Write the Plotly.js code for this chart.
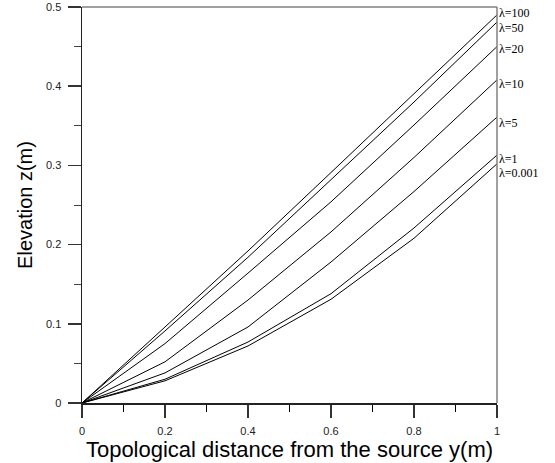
<!DOCTYPE html>
<html>
<head>
<meta charset="utf-8">
<script src="https://cdn.plot.ly/plotly-3.0.1.min.js"></script>
<style>html,body{margin:0;padding:0;background:#fff;}#chart{width:555px;height:463px;}</style>
</head>
<body>
<div id="chart"></div>
<script>
const xVals = [0, 0.2, 0.4, 0.6, 0.8, 1];
const lambda100 = [0, 0.096, 0.192, 0.291, 0.390, 0.490];
const lambda50 = [0, 0.091, 0.184, 0.282, 0.380, 0.481];
const lambda20 = [0, 0.075, 0.164, 0.254, 0.351, 0.450];
const lambda10 = [0, 0.052, 0.130, 0.216, 0.310, 0.408];
const lambda5 = [0, 0.038, 0.096, 0.178, 0.267, 0.361];
const lambda1 = [0, 0.030, 0.077, 0.138, 0.221, 0.313];
const lambda0001 = [0, 0.028, 0.072, 0.131, 0.208, 0.302];
const seriesNames = ["λ=100", "λ=50", "λ=20", "λ=10", "λ=5", "λ=1", "λ=0.001"];
const seriesValues = [lambda100, lambda50, lambda20, lambda10, lambda5, lambda1, lambda0001];
const labelY = [0.492, 0.474, 0.447, 0.403, 0.354, 0.308, 0.290];

const traces = seriesValues.map((vals, i) => ({
  x: xVals, y: vals, type: 'scatter', mode: 'lines', name: seriesNames[i],
  line: {color: '#000', width: 1}, showlegend: false, hoverinfo: 'skip'
}));

const annotations = seriesNames.map((n, i) => ({
  x: 1, y: labelY[i], xref: 'x', yref: 'y', text: n, showarrow: false,
  xanchor: 'left', yanchor: 'middle', xshift: 0,
  font: {family: 'Liberation Serif, Times New Roman, serif', size: 12, color: '#000'}
}));

const layout = {
  width: 555, height: 463,
  margin: {l: 82, r: 58, t: 7, b: 60},
  paper_bgcolor: '#fff', plot_bgcolor: '#fff',
  font: {family: 'Liberation Sans, Arial, sans-serif', color: '#000'},
  xaxis: {
    range: [0, 1], tickvals: [0, 0.2, 0.4, 0.6, 0.8, 1], ticktext: ['0', '0.2', '0.4', '0.6', '0.8', '1'],
    ticks: 'outside', ticklen: 13, tickwidth: 1.5, tickcolor: '#333',
    minor: {dtick: 0.1, tick0: 0, ticks: 'outside', ticklen: 7, tickwidth: 1, tickcolor: '#000'},
    showgrid: false, zeroline: false, showline: true, linecolor: '#222', linewidth: 1.5,
    tickfont: {size: 11, color: '#222'}, ticklabelstandoff: 4,
    title: {text: 'Topological distance from the source y(m)', font: {size: 22, color: '#000'}, standoff: 2},
    automargin: false
  },
  yaxis: {
    range: [0, 0.5], tickvals: [0, 0.1, 0.2, 0.3, 0.4, 0.5], ticktext: ['0', '0.1', '0.2', '0.3', '0.4', '0.5'],
    ticks: 'outside', ticklen: 13, tickwidth: 1.5, tickcolor: '#333',
    minor: {dtick: 0.05, tick0: 0, ticks: 'outside', ticklen: 7, tickwidth: 1, tickcolor: '#444'},
    showgrid: false, zeroline: false, showline: true, linecolor: '#222', linewidth: 1.5,
    tickfont: {size: 11, color: '#222'}, ticklabelstandoff: 4,
    title: {text: 'Elevation z(m)', font: {size: 20, color: '#000'}, standoff: 8},
    automargin: false
  },
  shapes: [
    {type: 'line', xref: 'paper', yref: 'paper', x0: 0, x1: 1, y0: 1, y1: 1, line: {color: '#808080', width: 1.5}},
    {type: 'line', xref: 'paper', yref: 'paper', x0: 1, x1: 1, y0: 0, y1: 1, line: {color: '#808080', width: 1.5}}
  ],
  annotations: annotations
};
Plotly.newPlot('chart', traces, layout, {displayModeBar: false, staticPlot: true});
</script>
</body>
</html>
